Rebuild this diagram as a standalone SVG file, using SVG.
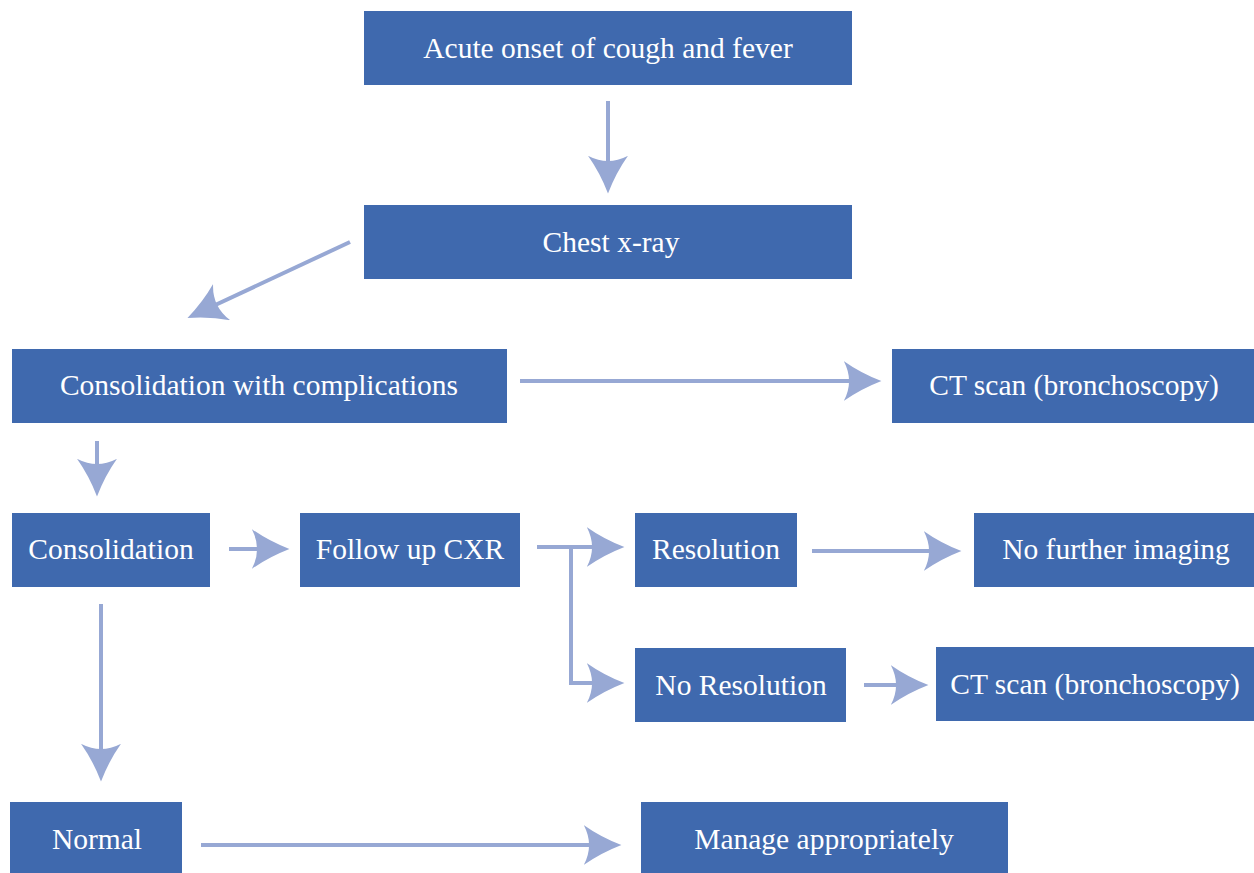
<svg xmlns="http://www.w3.org/2000/svg" width="1254" height="873" viewBox="0 0 1254 873">
<style>
.box{fill:#3F69AE}
.t{font-family:"Liberation Serif","DejaVu Serif",serif;font-size:29.5px;fill:#ffffff;text-anchor:middle}
.c{fill:none;stroke:#97A8D4;stroke-width:4;marker-end:url(#ah)}
</style>
<defs>
<marker id="ah" markerUnits="userSpaceOnUse" markerWidth="40" markerHeight="40" refX="24" refY="17" orient="auto" viewBox="0 0 34 34">
<path d="M32 17 Q14 10 0 0 Q9 17 0 34 Q14 24 32 17 Z" fill="#97A8D4"/>
</marker>
</defs>
<rect width="1254" height="873" fill="#ffffff"/>
<g id="connectors">
<path class="c" d="M608 101 V184"/>
<path class="c" d="M350 242 L196 314"/>
<path class="c" d="M520 381 H872"/>
<path class="c" d="M97 441 V487"/>
<path class="c" d="M229 549 H280"/>
<path class="c" d="M537 547 H615"/>
<path class="c" d="M571 547 V683 H615"/>
<path class="c" d="M812 551 H952"/>
<path class="c" d="M864 685 H919"/>
<path class="c" d="M101 604 V772"/>
<path class="c" d="M201 845 H612"/>
</g>
<g id="n1"><rect class="box" x="364" y="11" width="488" height="74"/><text class="t" x="608" y="58">Acute onset of cough and fever</text></g>
<g id="n2"><rect class="box" x="364" y="205" width="488" height="74"/><text class="t" x="611" y="252">Chest x-ray</text></g>
<g id="n3"><rect class="box" x="12" y="349" width="495" height="74"/><text class="t" x="259" y="395">Consolidation with complications</text></g>
<g id="n4"><rect class="box" x="892" y="349" width="362" height="74"/><text class="t" x="1074" y="395">CT scan (bronchoscopy)</text></g>
<g id="n5"><rect class="box" x="12" y="513" width="198" height="74"/><text class="t" x="111" y="559">Consolidation</text></g>
<g id="n6"><rect class="box" x="300" y="513" width="220" height="74"/><text class="t" x="410" y="559">Follow up CXR</text></g>
<g id="n7"><rect class="box" x="635" y="513" width="162" height="74"/><text class="t" x="716" y="559">Resolution</text></g>
<g id="n8"><rect class="box" x="974" y="513" width="280" height="74"/><text class="t" x="1116" y="559">No further imaging</text></g>
<g id="n9"><rect class="box" x="635" y="648" width="211" height="74"/><text class="t" x="741" y="695">No Resolution</text></g>
<g id="n10"><rect class="box" x="936" y="647" width="318" height="74"/><text class="t" x="1095" y="694">CT scan (bronchoscopy)</text></g>
<g id="n11"><rect class="box" x="10" y="802" width="172" height="71"/><text class="t" x="97" y="849">Normal</text></g>
<g id="n12"><rect class="box" x="641" y="802" width="367" height="71"/><text class="t" x="824" y="849">Manage appropriately</text></g>
</svg>
